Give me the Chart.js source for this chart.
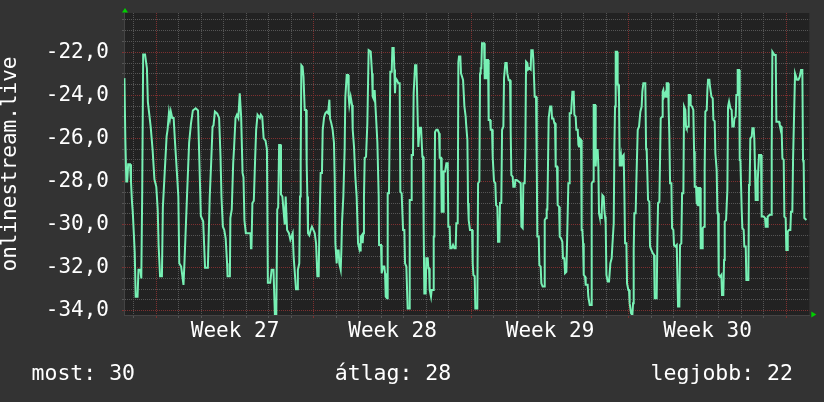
<!DOCTYPE html>
<html>
<head>
<meta charset="utf-8">
<script src="https://cdn.jsdelivr.net/npm/chart.js@4/dist/chart.umd.min.js"></script>
<style>
  html, body { margin: 0; padding: 0; background: #333333; }
  #wrap { width: 824px; height: 402px; }
</style>
</head>
<body>
<div id="wrap"><canvas id="graph" width="824" height="402"></canvas></div>
<script>
const seriesName = "onlinestream.live";

// hours since the start of week 27
const hours = [
  -34, -33, -32, -31, -30, -28, -27, -26, -25, -23,
  -22, -20, -19, -17, -16, -15, -14, -12, -10, -9,
  -6, -4, -2, 0, 1.5, 2.5, 4, 6, 7, 11,
  12, 13.5, 14.5, 15.5, 17, 18.5, 20, 22, 23.5, 24.5,
  26.5, 29, 30, 31.5, 33, 35, 37, 39, 42, 44.5,
  46, 47.5, 50, 52, 55, 57, 58.5, 60, 61, 62.5,
  65, 67, 68.5, 69.5, 71, 72.5, 74, 75.5, 76, 78.5,
  79, 80.5, 82, 83, 84.5, 86, 87.5, 89, 90.5, 92,
  93, 94, 95.5, 100.5, 101, 101.5, 102.5, 104, 105.5, 106.5,
  108, 110.5, 111.5, 113, 114.5, 116.5, 118, 119, 121.5, 123,
  125, 126.5, 128, 129, 130, 131, 132.5, 133, 134.5, 136,
  137, 138, 139.5, 141.5, 143, 145.5, 146.5, 147.5, 149, 150.5,
  151, 152.5, 153.3, 154, 154.7, 156, 157, 157.5, 158.3, 159.7,
  160.4, 161.1, 161.8, 163.2, 164.7, 166, 167.5, 169, 170.4, 171.8,
  173.2, 173.9, 175.3, 176.7, 177.5, 179, 180.3, 181.7, 183.2, 184.6,
  185.3, 186.7, 188.1, 189.5, 190.3, 191, 192.4, 193.1, 194.5, 195.2,
  196.7, 197.4, 198.1, 199.5, 200.9, 201.6, 203.1, 204.5, 205.2, 205.9,
  207.3, 208.8, 209.5, 210.9, 212.3, 213.7, 215.2, 215.9, 217.3, 218,
  219.4, 220.1, 220.8, 221.5, 222.3, 223.7, 225.1, 226.5, 228.7, 230.1,
  230.8, 232.2, 232.9, 233.6, 235.1, 235.8, 237.2, 237.6, 239.7, 240.4,
  241.8, 243.2, 244, 244.7, 246.1, 246.8, 248.2, 249.6, 251.1, 251.8,
  253.2, 253.9, 254.6, 255.3, 256.8, 258.2, 259.6, 260.3, 261.7, 263.2,
  264.6, 265.3, 266.7, 268.1, 269.6, 270.3, 271.7, 272.4, 273.8, 274.5,
  276, 277.4, 278.1, 279.5, 280.9, 282.4, 283.8, 284.5, 285.2, 285.9,
  287.3, 288, 289.5, 290.2, 290.9, 291.6, 293, 293.7, 295.2, 295.9,
  296.6, 297.3, 298.7, 300.1, 301.6, 302.3, 303.7, 304.4, 305.8, 306.5,
  308, 309.4, 310.8, 311.5, 312.9, 313.6, 315.1, 316.5, 317.9, 319.3,
  320, 321.5, 322.2, 322.9, 324.3, 325, 327.2, 328.6, 330, 330.4,
  331.8, 332.5, 333.2, 334.6, 336.8, 337.5, 338.2, 339.6, 340.3, 342.4,
  343.2, 344.6, 345.3, 346, 346.7, 347.4, 349.6, 350.3, 351.7, 352.4,
  353.8, 354.5, 356, 356.7, 358.1, 358.8, 360.2, 361.6, 362.4, 363.8,
  364.5, 365.9, 366.6, 368, 368.8, 370.2, 370.9, 372.3, 373.7, 374.4,
  375.9, 377.3, 378, 378.7, 380.1, 380.8, 382.3, 383, 384.4, 386.5,
  388.7, 389.4, 390.8, 391.5, 392.9, 393.6, 394.4, 395.8, 396.5, 397.9,
  399.3, 400, 401.5, 402.2, 403.6, 405, 405.8, 406.4, 407.9, 408.6,
  410, 410.7, 412.1, 413.6, 414.3, 415.7, 416.4, 417.1, 418.5, 420,
  421.4, 422.1, 423.5, 424.6, 425.3, 426, 427.4, 428.1, 429.6, 430.3,
  431.7, 433.1, 433.8, 435.2, 436, 437.4, 438.1, 438.8, 439.5, 440.2,
  440.9, 442.4, 443.8, 445.2, 445.9, 447.3, 448, 449.5, 450.2, 450.9,
  451.6, 453, 453.7, 454.4, 455.2, 455.9, 457.3, 458, 460.1, 460.8,
  462.3, 463.7, 464.4, 465.8, 466.5, 468, 468.7, 469.4, 470.8, 471.5,
  472.2, 472.9, 474.4, 475.1, 475.8, 477.2, 477.9, 478.6, 479.3, 480.1,
  481.5, 482.9, 484.3, 485.7, 486.4, 487.9, 488.6, 489.3, 490, 491.4,
  492.1, 492.8, 493.5, 494.3, 495.7, 496.4, 497.1, 498.5, 499.2, 500,
  501.4, 502.1, 503.5, 504.2, 504.9, 506.4, 507.8, 508.5, 509.2, 509.9,
  511.3, 512, 513.5, 514.9, 516.3, 517.7, 518.4, 519.5, 521.6, 522.4,
  523.1, 524.5, 525.9, 526.6, 528, 529.5, 530.9, 531.6, 533.7, 534.5,
  535.2, 536.6, 538, 539.4, 540.1, 540.8, 541.6, 543, 543.7, 544.4,
  545.8, 546.5, 547.2, 548, 549.4, 550.1, 551.5, 552.2, 553.6, 555.1,
  556.5, 557.9, 558.6, 560, 560.8, 562.2, 562.9, 564.3, 565, 565.7,
  567.2, 567.9, 569.3, 570, 571.4, 572.8, 573.6, 574.3, 575.7, 576.4,
  577.8, 578.5, 580, 580.7, 582.1, 582.8, 584.2, 584.9, 585.6, 587.1,
  587.8, 588.5, 589.9, 590.6, 592.1, 593.5, 594.2, 595.6, 596.3, 597.7,
  598.5, 599.2, 599.9, 601.3, 602.7, 603.4, 604.8, 605.6, 606.3, 607.7,
  609.1, 609.8, 610.9, 612.3, 613.7, 614.4, 615.9, 616.6, 618, 618.7,
  619.4, 620.1, 621.6, 622.3, 623, 624.4, 625.1, 626.5, 627.2, 628.7,
  629.4, 631.5, 632.2, 632.9, 633.6, 635.1, 635.8, 637.2, 637.9, 638.6,
  639.3, 640.8, 641.5, 642.9, 645, 645.7, 647.9, 649.3, 650, 651.4,
  652.1, 654.3, 655.7, 656.4, 657.1, 659.2, 660.7, 661.4, 664.2, 664.9,
  666.4, 667.1, 667.8, 669.2, 669.9, 671.3, 672, 672.8, 673.5, 674.9,
  676.3, 677, 678.4, 679.2, 679.9, 681.3, 683.4, 684.9, 686.3, 687.7,
  689.1, 689.8, 690.5, 691.2, 693.4
];

const temps = [
  -23.2, -26.1, -28.0, -28.0, -27.2, -27.2, -28.0, -28.9, -29.5, -31.3,
  -33.35, -33.35, -32.1, -32.1, -32.5, -28.4, -22.1, -22.1, -22.75, -24.3,
  -25.45, -26.5, -27.9, -28.25, -29.3, -31.0, -32.4, -32.4, -29.2, -25.9,
  -25.6, -24.8, -25.1, -24.75, -25.05, -25.05, -26.2, -27.6, -28.7, -31.8,
  -31.95, -32.8, -31.8, -30.1, -28.4, -26.2, -25.3, -24.7, -24.6, -24.7,
  -27.15, -29.6, -29.85, -32.0, -32.0, -28.7, -27.15, -25.45, -25.4, -24.75,
  -24.85, -25.05, -26.85, -28.7, -30.1, -30.25, -30.65, -31.8, -32.4, -32.4,
  -29.7, -29.3, -27.15, -26.4, -25.05, -24.9, -25.05, -23.9, -25.0, -27.6,
  -27.8, -29.8, -30.4, -30.4, -31.1, -31.1, -29.0, -28.9, -26.85, -25.6,
  -24.9, -25.05, -24.9, -25.0, -26.0, -26.1, -26.5, -32.7, -32.7, -32.1,
  -32.1, -34.2, -34.2, -29.3, -29.2, -26.3, -26.3, -28.6, -28.7, -29.5,
  -30.0, -28.7, -30.25, -30.4, -30.7, -30.4, -31.5, -32.1, -33.0, -33.0,
  -32.1, -31.8, -28.7, -27.15, -22.6, -22.67, -23.13, -23.13, -24.68, -24.68,
  -27.15, -28.7, -30.4, -30.5, -30.25, -30.1, -30.25, -30.4, -30.87, -32.4,
  -32.4, -30.25, -27.6, -27.6, -25.6, -25.0, -24.83, -24.76, -24.83, -24.2,
  -25.07, -25.3, -25.6, -26.2, -27.9, -30.87, -31.8, -31.2, -31.2, -31.8,
  -32.1, -31.2, -29.9, -28.7, -26.5, -24.1, -23.05, -23.05, -24.06, -24.45,
  -24.06, -24.45, -25.6, -26.4, -27.8, -28.7, -30.87, -31.0, -31.2, -30.56,
  -30.48, -30.87, -30.4, -28.7, -26.9, -26.85, -25.3, -21.9, -21.97, -22.98,
  -24.06, -24.2, -23.75, -24.37, -25.6, -26.2, -28.7, -30.95, -30.95, -32.26,
  -31.95, -31.95, -32.26, -33.35, -33.42, -28.55, -28.55, -22.9, -22.9, -21.8,
  -21.8, -22.8, -23.9, -23.2, -23.3, -23.44, -23.44, -28.47, -28.55, -30.25,
  -30.25, -31.8, -31.95, -33.9, -33.9, -28.86, -28.86, -26.77, -26.77, -23.9,
  -22.6, -22.6, -23.75, -26.4, -25.5, -25.5, -26.85, -26.85, -30.25, -33.2,
  -33.2, -31.57, -31.57, -32.03, -32.03, -33.04, -33.35, -33.04, -33.04, -30.56,
  -30.56, -25.7, -25.6, -25.6, -25.76, -26.9, -26.9, -29.4, -29.4, -27.54,
  -27.54, -27.15, -27.15, -30.1, -30.1, -31.1, -31.1, -30.95, -31.1, -31.1,
  -29.94, -29.94, -22.45, -22.2, -22.2, -22.98, -23.28, -24.5, -25.0, -25.3,
  -26.07, -29.0, -29.8, -30.25, -30.25, -31.8, -32.34, -32.4, -33.9, -33.9,
  -28.08, -28.0, -22.98, -22.74, -22.74, -21.58, -21.58, -23.2, -23.2, -22.36,
  -22.36, -25.14, -25.14, -25.6, -25.6, -26.85, -28.0, -28.08, -29.1, -29.17,
  -30.8, -30.8, -29.0, -29.0, -25.6, -25.45, -23.2, -22.5, -22.5, -22.98,
  -23.3, -23.3, -25.6, -27.7, -27.77, -28.24, -28.24, -27.93, -27.93, -28.0,
  -28.08, -30.1, -30.17, -28.08, -28.08, -26.54, -22.43, -22.5, -22.8, -22.74,
  -22.8, -21.9, -21.9, -22.36, -24.06, -24.06, -27.15, -30.56, -30.56, -31.88,
  -31.95, -32.73, -32.88, -32.88, -29.79, -29.7, -29.3, -29.3, -25.07, -24.52,
  -24.52, -25.07, -25.07, -25.3, -25.3, -27.3, -27.3, -29.1, -29.17, -30.56,
  -30.64, -30.8, -31.57, -31.57, -32.26, -32.2, -30.87, -30.87, -28.08, -28.08,
  -24.83, -24.83, -23.83, -23.83, -24.9, -24.99, -25.6, -25.6, -26.3, -26.38,
  -26.0, -26.07, -30.25, -30.25, -30.87, -32.34, -32.42, -32.8, -32.8, -33.35,
  -33.73, -33.73, -28.08, -28.0, -24.45, -24.45, -27.3, -26.54, -26.54, -27.3,
  -29.48, -29.63, -29.7, -29.4, -28.63, -28.7, -29.32, -29.63, -29.94, -32.34,
  -32.65, -32.65, -31.8, -31.57, -31.02, -29.94, -26.38, -24.52, -21.97, -21.97,
  -23.5, -23.5, -24.06, -27.3, -26.85, -27.3, -26.85, -26.77, -28.4, -30.87,
  -30.87, -32.73, -33.04, -33.04, -33.66, -34.12, -34.2, -33.66, -31.18, -29.48,
  -29.48, -28.08, -25.6, -25.45, -24.76, -24.52, -23.83, -23.44, -23.44, -26.46,
  -26.6, -28.86, -28.94, -31.02, -31.18, -31.33, -31.41, -33.42, -33.42, -30.56,
  -29.0, -28.94, -25.07, -24.99, -23.83, -23.75, -24.06, -23.9, -24.06, -23.44,
  -23.44, -24.68, -25.84, -28.08, -28.08, -30.17, -30.25, -30.95, -31.02, -30.95,
  -33.81, -33.81, -30.95, -30.87, -28.55, -28.55, -24.52, -24.68, -25.45, -25.53,
  -25.45, -23.98, -23.98, -24.45, -24.52, -24.68, -26.6, -28.24, -28.24, -29.0,
  -29.1, -28.3, -28.3, -31.1, -31.1, -30.17, -30.1, -27.46, -24.76, -24.68,
  -23.75, -23.28, -23.28, -23.6, -24.06, -24.14, -25.14, -25.2, -26.7, -27.46,
  -29.48, -29.48, -32.34, -32.42, -32.34, -33.27, -33.27, -31.64, -29.86, -29.8,
  -28.4, -24.52, -24.29, -24.6, -24.68, -25.45, -25.45, -25.07, -24.99, -23.98,
  -23.98, -22.82, -22.82, -27.0, -27.0, -29.32, -30.17, -30.25, -31.02, -31.02,
  -32.57, -32.57, -28.16, -28.08, -26.0, -25.92, -25.53, -25.53, -26.07, -27.46,
  -28.86, -28.86, -27.93, -26.77, -26.77, -29.63, -29.63, -29.7, -30.1, -30.1,
  -29.63, -29.55, -29.55, -26.5, -21.97, -22.12, -22.12, -25.22, -25.22, -25.37,
  -25.45, -25.76, -26.92, -27.0, -29.63, -29.7, -31.18, -31.18, -30.33, -30.25,
  -30.25, -29.4, -29.4, -26.92, -26.92, -22.98, -23.28, -23.28, -23.13, -22.82,
  -22.82, -27.0, -27.15, -29.7, -29.79
];

const yLabelValues = [-34, -32, -30, -28, -26, -24, -22];
const weekStarts = [0, 168, 336, 504, 672];
const weekLabelHours = [84, 252, 420, 588];
const weekLabels = ["Week 27", "Week 28", "Week 29", "Week 30"];
const summaryLabels = ["most: 30", "átlag: 28", "legjobb: 22"];

const fontMono = '"DejaVu Sans Mono", monospace';
const lineColor = "#77f0b4";
const minorGrid = "#555555";
const majorGrid = "#7e3030";
const arrowColor = "#00d000";

// grid positions: one line per day, every half degree
const xTickValues = [];
for (let h = -24; h <= 672; h += 24) xTickValues.push(h);
weekLabelHours.forEach((h) => xTickValues.push(h));
xTickValues.sort((a, b) => a - b);

const yTickValues = [];
for (let v = -34; v <= -20.5; v += 0.5) yTickValues.push(v);

function xGridColor(ctx) {
  const value = ctx.tick ? ctx.tick.value : null;
  if (weekStarts.includes(value)) return majorGrid;
  if (weekLabelHours.includes(value)) return "rgba(0,0,0,0)";
  return minorGrid;
}

function yGridColor(ctx) {
  const value = ctx.tick ? ctx.tick.value : null;
  return yLabelValues.includes(value) ? majorGrid : minorGrid;
}

const backgroundPlugin = {
  id: "rrdBackground",
  beforeDraw(chart) {
    const { ctx, chartArea } = chart;
    ctx.save();
    ctx.fillStyle = "#333333";
    ctx.fillRect(0, 0, chart.width, chart.height);
    ctx.fillStyle = "#222222";
    ctx.fillRect(chartArea.left, chartArea.top, chartArea.right - chartArea.left, chartArea.bottom - chartArea.top);
    ctx.restore();
  }
};

const decorPlugin = {
  id: "rrdDecor",
  afterDraw(chart) {
    const { ctx, chartArea } = chart;
    ctx.save();
    ctx.fillStyle = arrowColor;
    ctx.beginPath();
    ctx.moveTo(chartArea.left - 2, chartArea.top - 0.5);
    ctx.lineTo(chartArea.left + 4, chartArea.top - 0.5);
    ctx.lineTo(chartArea.left + 1, chartArea.top - 5);
    ctx.closePath();
    ctx.fill();
    ctx.beginPath();
    ctx.moveTo(chartArea.right + 2, chartArea.bottom - 3.5);
    ctx.lineTo(chartArea.right + 2, chartArea.bottom + 2.5);
    ctx.lineTo(chartArea.right + 7, chartArea.bottom - 0.5);
    ctx.closePath();
    ctx.fill();

    // summary line under the graph
    ctx.fillStyle = "#ffffff";
    ctx.font = "21.5px " + fontMono;
    ctx.textBaseline = "alphabetic";
    ctx.textAlign = "left";
    ctx.fillText(summaryLabels[0], 31.5, 380);
    ctx.textAlign = "center";
    ctx.fillText(summaryLabels[1], 393, 380);
    ctx.textAlign = "right";
    ctx.fillText(summaryLabels[2], 793, 380);
    ctx.restore();
  }
};

new Chart(document.getElementById("graph"), {
  type: "line",
  data: {
    datasets: [{
      label: seriesName,
      data: hours.map((h, i) => ({ x: h, y: temps[i] })),
      borderColor: lineColor,
      borderWidth: 2,
      pointRadius: 0,
      tension: 0,
      fill: false
    }]
  },
  options: {
    responsive: false,
    animation: false,
    devicePixelRatio: 1,
    layout: { padding: { left: 0, top: 13, right: 14.7, bottom: 0 } },
    plugins: {
      legend: { display: false },
      tooltip: { enabled: false }
    },
    scales: {
      x: {
        type: "linear",
        min: -34.45,
        max: 696.5,
        afterFit: (scale) => {
          scale.height = 87;
          scale.paddingLeft = 0;
          scale.paddingRight = 0;
        },
        afterBuildTicks: (scale) => { scale.ticks = xTickValues.map((v) => ({ value: v })); },
        ticks: {
          autoSkip: false,
          maxRotation: 0,
          padding: 1,
          color: "#ffffff",
          font: { family: fontMono, size: 21 },
          callback: (value) => {
            const i = weekLabelHours.indexOf(value);
            return i >= 0 ? weekLabels[i] : "";
          }
        },
        grid: {
          color: xGridColor,
          tickColor: xGridColor,
          lineWidth: 1,
          tickLength: 3
        },
        border: { display: true, color: "#444444", dash: [1, 1] }
      },
      y: {
        min: -34.2,
        max: -20.175,
        afterFit: (scale) => {
          scale.width = 124;
          scale.paddingTop = 0;
          scale.paddingBottom = 0;
        },
        afterBuildTicks: (scale) => { scale.ticks = yTickValues.map((v) => ({ value: v })); },
        ticks: {
          autoSkip: false,
          padding: 13,
          color: "#ffffff",
          font: { family: fontMono, size: 21 },
          callback: (value) => yLabelValues.includes(value) ? value.toFixed(1).replace(".", ",") : ""
        },
        grid: {
          color: yGridColor,
          tickColor: yGridColor,
          lineWidth: 1,
          tickLength: 2
        },
        border: { display: true, color: "#444444", dash: [1, 1] },
        title: {
          display: true,
          text: seriesName,
          color: "#ffffff",
          font: { family: fontMono, size: 21, lineHeight: 1 },
          padding: 0
        }
      }
    }
  },
  plugins: [backgroundPlugin, decorPlugin]
});
</script>
</body>
</html>
